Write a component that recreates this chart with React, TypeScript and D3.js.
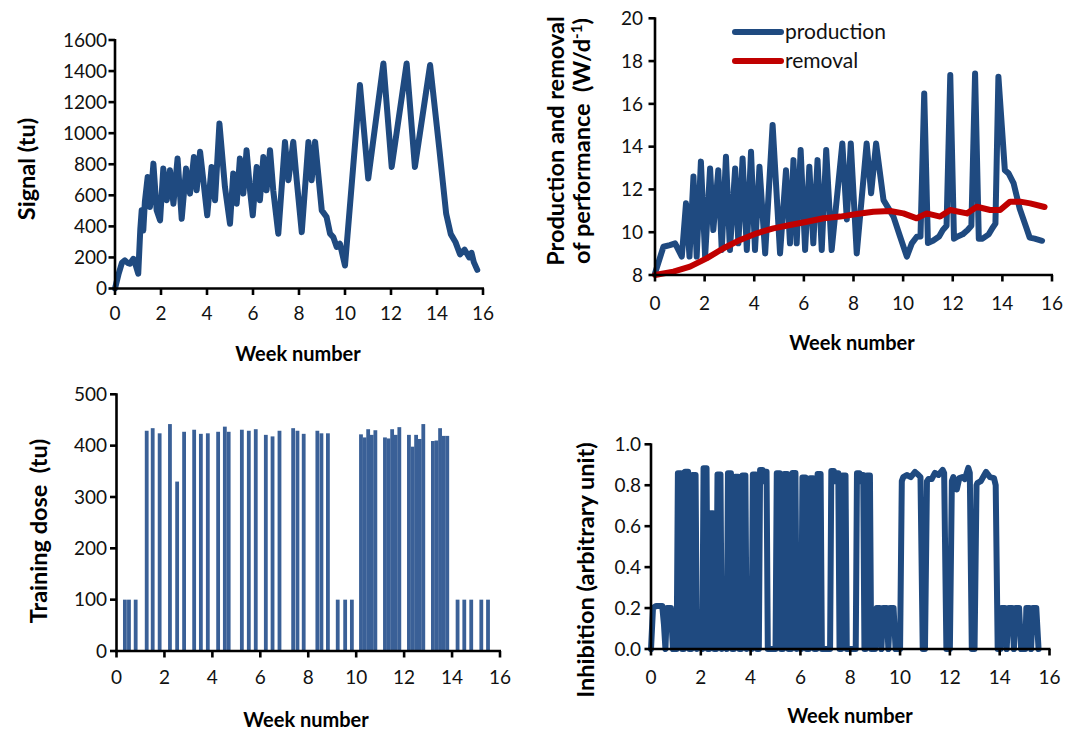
import React from 'react';
import * as d3 from 'd3';

// ---------- data ----------
const weekTicks = [0, 2, 4, 6, 8, 10, 12, 14, 16];
const signalTicks = [0, 200, 400, 600, 800, 1000, 1200, 1400, 1600];
const perfTicks = [8, 10, 12, 14, 16, 18, 20];
const doseTicks = [0, 100, 200, 300, 400, 500];
const inhibTicks = [0, 0.2, 0.4, 0.6, 0.8, 1.0];

// Signal (tu) vs week
const signalSeries: [number, number][] = [
  [0, 0], [0.15, 90], [0.3, 165], [0.43, 181], [0.55, 165], [0.65, 159], [0.8, 191], [0.9, 150], [1.01, 95],
  [1.1, 380], [1.16, 503], [1.23, 374], [1.3, 560], [1.42, 718], [1.52, 525], [1.67, 804], [1.81, 503],
  [1.96, 439], [2.1, 772], [2.25, 568], [2.39, 761], [2.54, 546], [2.72, 837], [2.9, 449], [3.09, 772],
  [3.26, 611], [3.43, 847], [3.55, 632], [3.7, 880], [3.84, 697], [4.01, 471], [4.2, 783], [4.35, 568],
  [4.54, 1062], [4.78, 654], [5.0, 417], [5.14, 740], [5.29, 546], [5.43, 837], [5.58, 611], [5.72, 890],
  [5.87, 632], [5.99, 471], [6.16, 783], [6.3, 568], [6.45, 847], [6.59, 632], [6.74, 890], [6.88, 632],
  [7.1, 353], [7.39, 944], [7.54, 697], [7.75, 944], [7.9, 697], [8.12, 363], [8.41, 944], [8.55, 697],
  [8.7, 944], [8.99, 503], [9.2, 460], [9.35, 353], [9.49, 331], [9.64, 267], [9.78, 288], [10.0, 148],
  [10.65, 1310], [11.01, 708], [11.67, 1449], [12.03, 783], [12.68, 1449], [13.04, 783], [13.7, 1439],
  [14.1, 900], [14.4, 480], [14.6, 350], [14.8, 300], [15.0, 220], [15.2, 250], [15.4, 200], [15.5, 230],
  [15.6, 170], [15.75, 120],
];

// Production of performance (W/d-1)
const productionSeries: [number, number][] = [
  [0, 8.08], [0.34, 9.32], [0.6, 9.4], [0.81, 9.48], [1.08, 8.86], [1.25, 11.35], [1.39, 8.86], [1.55, 12.6],
  [1.68, 8.86], [1.85, 13.3], [2.02, 8.86], [2.22, 12.98], [2.35, 10.1], [2.55, 12.9], [2.69, 9.17],
  [2.86, 13.53], [3.02, 9.17], [3.23, 12.98], [3.36, 9.48], [3.53, 13.45], [3.7, 9.17], [3.87, 13.76],
  [4.03, 9.17], [4.21, 13.06], [4.44, 9.01], [4.74, 15.01], [5.04, 9.01], [5.28, 12.9], [5.44, 9.48],
  [5.58, 13.37], [5.71, 9.48], [5.87, 13.84], [6.05, 9.17], [6.22, 13.06], [6.38, 9.48], [6.55, 13.37],
  [6.72, 9.17], [6.9, 13.84], [7.12, 9.17], [7.55, 14.15], [7.73, 10.6], [7.89, 14.15], [8.13, 9.01],
  [8.53, 14.15], [8.71, 11.82], [8.91, 14.15], [9.21, 11.5], [9.61, 10.73], [9.88, 9.79], [10.15, 8.86],
  [10.35, 9.48], [10.55, 9.79], [10.7, 9.8], [10.85, 16.49], [11.0, 9.5], [11.2, 9.6], [11.45, 9.8],
  [11.6, 10.1], [11.75, 10.3], [11.9, 17.35], [12.05, 9.7], [12.2, 9.8], [12.4, 9.9], [12.6, 10.1],
  [12.75, 10.3], [12.9, 17.42], [13.05, 9.7], [13.2, 9.7], [13.45, 9.9], [13.6, 10.2], [13.72, 10.4],
  [13.84, 17.27], [14.1, 12.9], [14.25, 12.75], [14.45, 12.3], [14.7, 11.1], [14.97, 10.2], [15.1, 9.75],
  [15.3, 9.7], [15.6, 9.6],
];

// Removal of performance (W/d-1)
const removalSeries: [number, number][] = [
  [0, 8.0], [0.74, 8.16], [1.41, 8.39], [2.08, 8.78], [2.76, 9.25], [3.43, 9.64], [4.1, 9.95], [4.77, 10.18],
  [5.44, 10.34], [6.12, 10.49], [6.79, 10.65], [7.46, 10.73], [8.13, 10.85], [8.8, 10.96], [9.48, 10.99],
  [10.01, 10.88], [10.55, 10.65], [10.95, 10.88], [11.49, 10.73], [11.9, 11.04], [12.57, 10.88],
  [12.97, 11.19], [13.51, 11.04], [13.91, 11.04], [14.31, 11.43], [14.72, 11.43], [15.12, 11.35],
  [15.7, 11.18],
];

// Training dose (tu)
const doseWeeks = [
  0.35, 0.52, 0.8,
  1.26, 1.51, 1.8, 2.23, 2.53, 2.82, 3.24, 3.52, 3.81, 4.24, 4.52, 4.68, 5.23, 5.52, 5.81, 6.23, 6.51, 6.8,
  7.37, 7.55, 7.81, 8.38, 8.55, 8.82,
  9.23, 9.54, 9.82,
  10.2, 10.35, 10.5, 10.65, 10.8,
  11.2, 11.35, 11.5, 11.65, 11.8,
  12.2, 12.35, 12.5, 12.65, 12.8,
  13.2, 13.35, 13.5, 13.65, 13.8,
  14.23, 14.51, 14.8, 15.22, 15.5,
];
const doseValues = [
  100, 100, 100,
  429, 434, 424, 442, 330, 427, 431, 423, 424, 427, 437, 427, 431, 429, 432, 421, 418, 429,
  434, 429, 423, 429, 424, 424,
  100, 100, 100,
  422, 416, 432, 421, 430,
  416, 414, 432, 421, 436,
  421, 398, 421, 413, 442,
  409, 410, 434, 419, 419,
  100, 100, 100, 100, 100,
];

// Inhibition (arbitrary unit)
const inhibitionSeries: [number, number][] = [
  [0, 0], [0.08, 0.2], [0.2, 0.21], [0.45, 0.21], [0.52, 0.12], [0.58, 0], [0.64, 0.2], [0.8, 0.2], [0.88, 0], [1.03, 0],
  [1.08, 0.858], [1.2, 0.858], [1.25, 0],
  [1.32, 0], [1.37, 0.866], [1.49, 0.866], [1.54, 0],
  [1.62, 0], [1.67, 0.85], [1.79, 0.85], [1.84, 0], [1.96, 0.18],
  [2.06, 0], [2.11, 0.883], [2.23, 0.883], [2.28, 0],
  [2.34, 0], [2.39, 0.663], [2.49, 0.663], [2.54, 0],
  [2.62, 0], [2.67, 0.853], [2.79, 0.853], [2.84, 0], [2.95, 0.18],
  [3.04, 0], [3.09, 0.858], [3.21, 0.858], [3.26, 0],
  [3.33, 0], [3.38, 0.842], [3.5, 0.842], [3.55, 0],
  [3.62, 0], [3.67, 0.847], [3.79, 0.847], [3.84, 0], [3.95, 0.18],
  [4.04, 0], [4.09, 0.853], [4.21, 0.853], [4.26, 0],
  [4.33, 0], [4.38, 0.875], [4.48, 0.875], [4.51, 0.82], [4.54, 0.866], [4.64, 0.866], [4.69, 0], [5.0, 0],
  [5.05, 0.858], [5.17, 0.858], [5.22, 0],
  [5.3, 0], [5.35, 0.855], [5.47, 0.855], [5.52, 0],
  [5.63, 0], [5.68, 0.86], [5.8, 0.86], [5.85, 0], [5.95, 0.18],
  [6.03, 0], [6.08, 0.838], [6.2, 0.838], [6.25, 0],
  [6.34, 0], [6.39, 0.834], [6.51, 0.834], [6.56, 0],
  [6.64, 0], [6.69, 0.855], [6.81, 0.855], [6.86, 0], [7.15, 0],
  [7.19, 0], [7.24, 0.87], [7.34, 0.87], [7.38, 0.82], [7.42, 0.858], [7.52, 0.858], [7.57, 0],
  [7.64, 0], [7.69, 0.847], [7.81, 0.847], [7.86, 0], [8.18, 0],
  [8.22, 0], [8.27, 0.858], [8.37, 0.858], [8.4, 0.82], [8.43, 0.85], [8.52, 0.85], [8.57, 0],
  [8.62, 0], [8.67, 0.847], [8.79, 0.847], [8.84, 0],
  [9.0, 0], [9.06, 0.2], [9.18, 0.2], [9.25, 0], [9.32, 0.2], [9.46, 0.2], [9.53, 0], [9.6, 0.2], [9.74, 0.2], [9.82, 0], [10.0, 0],
  [10.07, 0.82], [10.13, 0.84], [10.27, 0.85], [10.43, 0.84], [10.6, 0.865], [10.74, 0.85], [10.82, 0.84], [10.91, 0], [11.0, 0],
  [11.08, 0.82], [11.14, 0.83], [11.27, 0.83], [11.4, 0.86], [11.54, 0.85], [11.71, 0.875], [11.77, 0.86], [11.86, 0], [12.0, 0],
  [12.08, 0.82], [12.14, 0.84], [12.28, 0.78], [12.38, 0.835], [12.5, 0.84], [12.6, 0.83], [12.74, 0.885], [12.8, 0.86], [12.88, 0], [12.99, 0],
  [13.07, 0.8], [13.1, 0.81], [13.24, 0.82], [13.45, 0.865], [13.61, 0.84], [13.77, 0.835], [13.84, 0.8], [13.92, 0], [14.03, 0],
  [14.08, 0.2], [14.21, 0.2], [14.28, 0], [14.36, 0.2], [14.5, 0.2], [14.57, 0], [14.64, 0.2], [14.78, 0.2], [14.86, 0], [15.03, 0],
  [15.07, 0.2], [15.19, 0.2], [15.26, 0], [15.33, 0.2], [15.47, 0.2], [15.56, 0],
];

// ---------- styling ----------
const FONT = 'Lato, "Open Sans", sans-serif';
const LINE_BLUE = '#1f4a80';
const BAR_BLUE = '#3a6097';
const RED = '#c00000';
const TICK_FS = 19;
const XTITLE_FS = 20;
const YTITLE_FS = 23.5;

type Scale = d3.ScaleLinear<number, number>;

function Axes(props: {
  x: Scale; y: Scale; yTicks: number[]; yFmt: (v: number) => string;
  yLabelRight: number; xLabelBaseline: number;
  xTitle: { x: number; y: number };
}) {
  const { x, y, yTicks, yFmt, yLabelRight, xLabelBaseline, xTitle } = props;
  const x0 = x(0);
  const [yMin, yMax] = y.domain();
  const yb = y(yMin);
  return (
    <g>
      <line x1={x0} x2={x0} y1={y(yMax) - 1} y2={yb + 1.2} stroke="#000" strokeWidth={2.6} />
      <line x1={x0 - 1.2} x2={x(16) + 1} y1={yb} y2={yb} stroke="#000" strokeWidth={2.6} />
      {yTicks.map((t) => (
        <g key={'y' + t}>
          <line x1={x0 - 6.5} x2={x0} y1={y(t)} y2={y(t)} stroke="#000" strokeWidth={2.6} />
          <text x={yLabelRight} y={y(t) + 6.8} textAnchor="end" fontSize={TICK_FS} fontFamily={FONT} fill="#111">
            {yFmt(t)}
          </text>
        </g>
      ))}
      {weekTicks.map((t) => (
        <g key={'x' + t}>
          <line x1={x(t)} x2={x(t)} y1={yb} y2={yb + 6.5} stroke="#000" strokeWidth={2.6} />
          <text x={x(t)} y={xLabelBaseline} textAnchor="middle" fontSize={TICK_FS} fontFamily={FONT} fill="#111">
            {t}
          </text>
        </g>
      ))}
      <text x={xTitle.x} y={xTitle.y} textAnchor="middle" fontSize={XTITLE_FS} fontWeight={700} fontFamily={FONT} fill="#000">
        Week number
      </text>
    </g>
  );
}

function YTitle(props: { bx: number; cy: number; children: React.ReactNode }) {
  return (
    <text transform={`translate(${props.bx},${props.cy}) rotate(-90)`} textAnchor="middle"
      fontSize={YTITLE_FS} fontWeight={700} fontFamily={FONT} fill="#000" xmlSpace="preserve">
      {props.children}
    </text>
  );
}

export default function App() {
  // Panel 1: Signal
  const x1 = d3.scaleLinear().domain([0, 16]).range([115, 483]);
  const y1 = d3.scaleLinear().domain([0, 1600]).range([288.5, 40]);
  // Panel 2: Production / removal
  const x2 = d3.scaleLinear().domain([0, 16]).range([655, 1052]);
  const y2 = d3.scaleLinear().domain([8, 20]).range([275, 18.3]);
  // Panel 3: Training dose
  const x3 = d3.scaleLinear().domain([0, 16]).range([116.5, 500]);
  const y3 = d3.scaleLinear().domain([0, 500]).range([651, 394.3]);
  // Panel 4: Inhibition
  const x4 = d3.scaleLinear().domain([0, 16]).range([651, 1049.5]);
  const y4 = d3.scaleLinear().domain([0, 1]).range([649, 444.3]);

  const line1 = d3.line<[number, number]>().x((d) => x1(d[0])).y((d) => y1(d[1]));
  const line2 = d3.line<[number, number]>().x((d) => x2(d[0])).y((d) => y2(d[1]));
  const line4 = d3.line<[number, number]>().x((d) => x4(d[0])).y((d) => y4(d[1]));

  const barW = 3.8;
  const fmtInt = (v: number) => String(v);
  const fmt1 = d3.format('.1f');

  return (
    <div style={{ position: 'absolute', left: 0, top: 0, width: 1075, height: 731, background: '#fff' }}>
      <svg width={1075} height={731} style={{ display: 'block' }}>
        <rect x={0} y={0} width={1075} height={731} fill="#fff" />

        {/* Panel 1 */}
        <path d={line1(signalSeries) || ''} fill="none" stroke={LINE_BLUE} strokeWidth={6}
          strokeLinejoin="round" strokeLinecap="round" />
        <Axes x={x1} y={y1} yTicks={signalTicks} yFmt={fmtInt} yLabelRight={107}
          xLabelBaseline={320} xTitle={{ x: 298, y: 361 }} />
        <YTitle bx={35} cy={169}>{'Signal (tu)'}</YTitle>

        {/* Panel 2 */}
        <path d={line2(productionSeries) || ''} fill="none" stroke={LINE_BLUE} strokeWidth={6}
          strokeLinejoin="round" strokeLinecap="round" />
        <path d={line2(removalSeries) || ''} fill="none" stroke={RED} strokeWidth={6}
          strokeLinejoin="round" strokeLinecap="round" />
        <Axes x={x2} y={y2} yTicks={perfTicks} yFmt={fmtInt} yLabelRight={643}
          xLabelBaseline={310} xTitle={{ x: 852, y: 350 }} />
        <text transform="translate(564,141) rotate(-90)" textAnchor="middle" fontSize={YTITLE_FS}
          fontWeight={700} fontFamily={FONT}>Production and removal</text>
        <text transform="translate(590,141) rotate(-90)" textAnchor="middle" fontSize={YTITLE_FS}
          fontWeight={700} fontFamily={FONT} xmlSpace="preserve">
          {'of performance  (W/d'}<tspan fontSize={15} dy={-8}>-1</tspan><tspan dy={8}>)</tspan>
        </text>
        {/* legend */}
        <line x1={735} x2={781} y1={32} y2={32} stroke={LINE_BLUE} strokeWidth={6} strokeLinecap="round" />
        <text x={785} y={39} fontSize={21} fontFamily={FONT} fill="#111">production</text>
        <line x1={735} x2={781} y1={61} y2={61} stroke={RED} strokeWidth={6} strokeLinecap="round" />
        <text x={785} y={68} fontSize={21} fontFamily={FONT} fill="#111">removal</text>

        {/* Panel 3 */}
        {doseWeeks.map((w, i) => (
          <rect key={i} x={x3(w) - barW / 2} y={y3(doseValues[i])} width={barW}
            height={y3(0) - y3(doseValues[i])} fill={BAR_BLUE} />
        ))}
        <Axes x={x3} y={y3} yTicks={doseTicks} yFmt={fmtInt} yLabelRight={107}
          xLabelBaseline={684} xTitle={{ x: 306, y: 727 }} />
        <YTitle bx={47} cy={531}>{'Training dose  (tu)'}</YTitle>

        {/* Panel 4 */}
        <path d={line4(inhibitionSeries) || ''} fill="none" stroke={LINE_BLUE} strokeWidth={6}
          strokeLinejoin="round" strokeLinecap="round" />
        <Axes x={x4} y={y4} yTicks={inhibTicks} yFmt={fmt1} yLabelRight={641}
          xLabelBaseline={684} xTitle={{ x: 850, y: 723 }} />
        <YTitle bx={594} cy={570}>Inhibition (arbitrary unit)</YTitle>
      </svg>
    </div>
  );
}
